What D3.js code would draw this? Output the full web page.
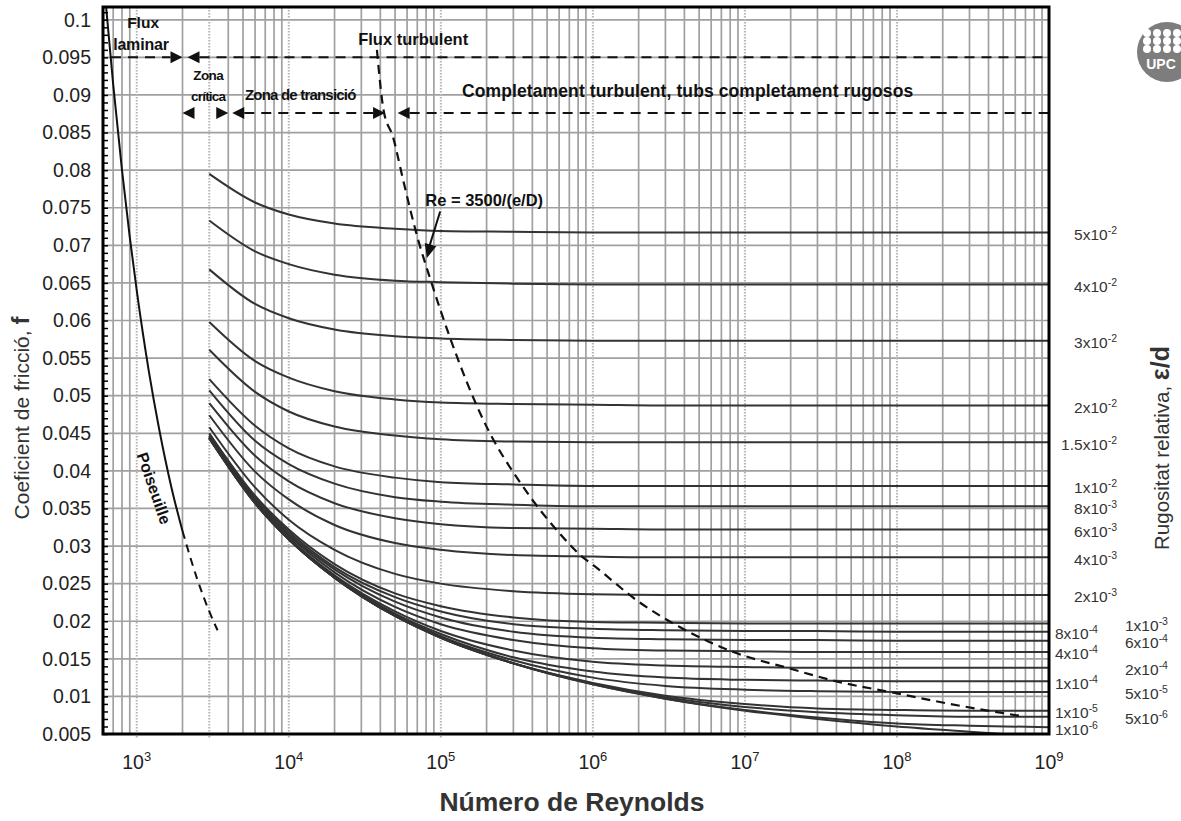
<!DOCTYPE html>
<html>
<head>
<meta charset="utf-8">
<script src="https://cdn.jsdelivr.net/npm/d3@7"></script>
<style>
body { margin: 0; background: #fff; }
text { font-family: "Liberation Sans", Arial, Helvetica, sans-serif; }
</style>
</head>
<body>
<svg id="moody" width="1181" height="821"></svg>
<script>
// ---- data ----
var reSamples = [3000, 6000, 1e4, 2e4, 5e4, 1e5, 3e5, 1e6, 3e6, 1e7, 3e7, 1e8, 3e8, 1e9];

var f_5e2   = [0.0795, 0.0757, 0.0741, 0.0729, 0.0722, 0.0719, 0.0718, 0.0717, 0.0717, 0.0717, 0.0717, 0.0717, 0.0717, 0.0717];
var f_4e2   = [0.0733, 0.0692, 0.0675, 0.0661, 0.0653, 0.0651, 0.0649, 0.0648, 0.0648, 0.0648, 0.0648, 0.0648, 0.0648, 0.0648];
var f_3e2   = [0.0668, 0.0622, 0.0603, 0.0588, 0.0579, 0.0576, 0.0574, 0.0573, 0.0573, 0.0573, 0.0573, 0.0573, 0.0573, 0.0573];
var f_2e2   = [0.0598, 0.0546, 0.0524, 0.0506, 0.0495, 0.0491, 0.0489, 0.0488, 0.0487, 0.0487, 0.0487, 0.0487, 0.0487, 0.0487];
var f_15e3  = [0.0561, 0.0505, 0.0479, 0.0459, 0.0447, 0.0442, 0.0439, 0.0438, 0.0438, 0.0438, 0.0438, 0.0438, 0.0438, 0.0438];
var f_1e2   = [0.0522, 0.0460, 0.0430, 0.0406, 0.0391, 0.0385, 0.0382, 0.0380, 0.0380, 0.0380, 0.0380, 0.0380, 0.0380, 0.0380];
var f_8e3   = [0.0507, 0.0440, 0.0409, 0.0383, 0.0365, 0.0359, 0.0355, 0.0353, 0.0353, 0.0353, 0.0353, 0.0353, 0.0353, 0.0353];
var f_6e3   = [0.0490, 0.0420, 0.0386, 0.0357, 0.0337, 0.0329, 0.0324, 0.0323, 0.0322, 0.0322, 0.0322, 0.0322, 0.0322, 0.0322];
var f_4e3   = [0.0474, 0.0399, 0.0362, 0.0328, 0.0304, 0.0295, 0.0288, 0.0286, 0.0285, 0.0285, 0.0285, 0.0285, 0.0285, 0.0285];
var f_2e3   = [0.0458, 0.0378, 0.0335, 0.0295, 0.0263, 0.0250, 0.0240, 0.0236, 0.0235, 0.0235, 0.0235, 0.0235, 0.0235, 0.0235];
var f_1e3   = [0.0450, 0.0367, 0.0322, 0.0276, 0.0237, 0.0220, 0.0205, 0.0199, 0.0198, 0.0197, 0.0197, 0.0197, 0.0197, 0.0197];
var f_8e4   = [0.0449, 0.0365, 0.0319, 0.0272, 0.0232, 0.0213, 0.0196, 0.0190, 0.0188, 0.0187, 0.0187, 0.0186, 0.0186, 0.0186];
var f_6e4   = [0.0447, 0.0363, 0.0316, 0.0269, 0.0226, 0.0205, 0.0186, 0.0178, 0.0176, 0.0175, 0.0175, 0.0174, 0.0174, 0.0174];
var f_4e4   = [0.0446, 0.0361, 0.0314, 0.0265, 0.0219, 0.0196, 0.0175, 0.0164, 0.0161, 0.0160, 0.0159, 0.0159, 0.0159, 0.0159];
var f_2e4   = [0.0445, 0.0359, 0.0311, 0.0261, 0.0213, 0.0187, 0.0161, 0.0146, 0.0141, 0.0139, 0.0138, 0.0138, 0.0138, 0.0138];
var f_1e4   = [0.0444, 0.0358, 0.0310, 0.0259, 0.0210, 0.0183, 0.0152, 0.0133, 0.0125, 0.0122, 0.0121, 0.0120, 0.0120, 0.0120];
var f_5e5   = [0.0444, 0.0358, 0.0309, 0.0258, 0.0209, 0.0180, 0.0148, 0.0125, 0.0114, 0.0109, 0.0107, 0.0106, 0.0106, 0.0106];
var f_1e5   = [0.0444, 0.0357, 0.0309, 0.0258, 0.0207, 0.0179, 0.0144, 0.0118, 0.0101, 0.0090, 0.0084, 0.0082, 0.0081, 0.0081];
var f_5e6   = [0.0444, 0.0357, 0.0309, 0.0258, 0.0207, 0.0178, 0.0144, 0.0117, 0.0099, 0.0086, 0.0079, 0.0075, 0.0073, 0.0073];
var f_1e6   = [0.0443, 0.0357, 0.0309, 0.0258, 0.0207, 0.0178, 0.0144, 0.0116, 0.0097, 0.0082, 0.0072, 0.0064, 0.0061, 0.0059];
var f_smooth= [0.0443, 0.0357, 0.0309, 0.0258, 0.0207, 0.0178, 0.0144, 0.0116, 0.0097, 0.0081, 0.0070, 0.0060, 0.0053, 0.0046];

// Poiseuille (laminar) line, solid then dashed
var laminarRe    = [629, 700, 800, 900, 1000, 1200, 1400, 1700, 2000];
var laminarF     = [0.1017, 0.0914, 0.0800, 0.0711, 0.0640, 0.0533, 0.0457, 0.0376, 0.0320];
var laminarDashRe = [2000, 2500, 3000, 3400];
var laminarDashF  = [0.0320, 0.0256, 0.0213, 0.0188];

// boundary Re = 3500/(e/D)
var boundaryRe = [3.8e4, 4.2e4, 4.85e4, 5.65e4, 7.1e4, 8.5e4, 1.15e5, 1.9e5, 3.5e5, 5.8e5, 8.6e5, 1e6, 2e6, 3.75e6, 8.4e6, 1.9e7, 4.2e7, 9.5e7, 2.1e8, 6.5e8];
var boundaryF  = [0.0960, 0.0880, 0.0844, 0.0787, 0.0707, 0.0656, 0.0577, 0.0468, 0.0378, 0.0321, 0.0285, 0.0275, 0.0226, 0.0192, 0.0159, 0.0138, 0.0119, 0.0105, 0.0091, 0.0074];

// zone limits (Re) and the levels of the two zone lines (f)
var zoneLimits = [2000, 4000, 43000, 52000];
var zoneLevels = [0.095, 0.0876];

var yTicks = [0.005, 0.01, 0.015, 0.02, 0.025, 0.03, 0.035, 0.04, 0.045, 0.05,
              0.055, 0.06, 0.065, 0.07, 0.075, 0.08, 0.085, 0.09, 0.095, 0.1];
var yTickLabels = ["0.005", "0.01", "0.015", "0.02", "0.025", "0.03", "0.035", "0.04", "0.045", "0.05",
                   "0.055", "0.06", "0.065", "0.07", "0.075", "0.08", "0.085", "0.09", "0.095", "0.1"];
var xTickExponents = [3, 4, 5, 6, 7, 8, 9];

// roughness curves: [mantissa, exponent, values, label column]
var curves = [
  ["5", "-2", f_5e2, 0], ["4", "-2", f_4e2, 0], ["3", "-2", f_3e2, 0], ["2", "-2", f_2e2, 0],
  ["1.5", "-2", f_15e3, 0], ["1", "-2", f_1e2, 0], ["8", "-3", f_8e3, 0], ["6", "-3", f_6e3, 0],
  ["4", "-3", f_4e3, 0], ["2", "-3", f_2e3, 0], ["1", "-3", f_1e3, 2], ["8", "-4", f_8e4, 1],
  ["6", "-4", f_6e4, 2], ["4", "-4", f_4e4, 1], ["2", "-4", f_2e4, 2], ["1", "-4", f_1e4, 1],
  ["5", "-5", f_5e5, 2], ["1", "-5", f_1e5, 1], ["5", "-6", f_5e6, 2], ["1", "-6", f_1e6, 1],
  [null, null, f_smooth, -1]
];

// ---- layout ----
var svg = d3.select("#moody"),
    margin = {top: 7, right: 132, bottom: 87, left: 103},
    width = +svg.attr("width") - margin.left - margin.right,
    height = +svg.attr("height") - margin.top - margin.bottom,
    g = svg.append("g").attr("transform", "translate(" + margin.left + "," + margin.top + ")");

var x = d3.scaleLog().domain([600, 1e9]).range([0, width]);
var y = d3.scaleLinear().domain([0.005, 0.1017]).range([height, 0]);

svg.append("defs").append("clipPath").attr("id", "plotclip")
  .append("rect").attr("width", width).attr("height", height);

// ---- grid ----
var vLines = [];
for (var n = 2; n <= 8; n++) {
  for (var k = 1; k <= 9; k++) {
    var v = k * Math.pow(10, n);
    if (v >= 600 && v < 1e9) vLines.push({v: v, dotted: (k == 1 || v == 3000)});
  }
}

g.append("g")
  .selectAll("line")
  .data(yTicks)
  .enter().append("line")
    .attr("x1", 0).attr("x2", width)
    .attr("y1", function(d) { return y(d); })
    .attr("y2", function(d) { return y(d); })
    .attr("stroke", "#a0a0a0").attr("stroke-width", 1.7);

g.append("g")
  .selectAll("line")
  .data(vLines)
  .enter().append("line")
    .attr("x1", function(d) { return x(d.v); })
    .attr("x2", function(d) { return x(d.v); })
    .attr("y1", 0).attr("y2", function(d) { return d.dotted ? height + 5 : height; })
    .attr("stroke", function(d) { return d.dotted ? "#b4b4b4" : "#a0a0a0"; })
    .attr("stroke-width", function(d) { return d.dotted ? 2 : 1.7; })
    .attr("stroke-dasharray", function(d) { return d.dotted ? "1.5,1.5" : null; });

// ---- curves ----
var line = d3.line()
  .x(function(d) { return x(d[0]); })
  .y(function(d) { return y(d[1]); })
  .curve(d3.curveMonotoneX);

var plot = g.append("g").attr("clip-path", "url(#plotclip)");

plot.append("g")
  .selectAll("path")
  .data(curves)
  .enter().append("path")
    .attr("d", function(c) { return line(reSamples.map(function(r, i) { return [r, c[2][i]]; })); })
    .attr("fill", "none")
    .attr("stroke", "#333")
    .attr("stroke-width", 2);

plot.append("path")
  .attr("d", line(laminarRe.map(function(r, i) { return [r, laminarF[i]]; })))
  .attr("fill", "none").attr("stroke", "#111").attr("stroke-width", 2);

plot.append("path")
  .attr("d", line(laminarDashRe.map(function(r, i) { return [r, laminarDashF[i]]; })))
  .attr("fill", "none").attr("stroke", "#111").attr("stroke-width", 2)
  .attr("stroke-dasharray", "8,6");

plot.append("path")
  .attr("d", line(boundaryRe.map(function(r, i) { return [r, boundaryF[i]]; })))
  .attr("fill", "none").attr("stroke", "#111").attr("stroke-width", 2.2)
  .attr("stroke-dasharray", "9,6");

// ---- zone lines with arrows ----
function arrow(tipX, yy, dir) {
  g.append("path")
    .attr("d", "M" + tipX + "," + yy + "L" + (tipX - dir * 12) + "," + (yy - 6) +
               "L" + (tipX - dir * 12) + "," + (yy + 6) + "Z")
    .attr("fill", "#111");
}
function dashed(x0, x1, yy) {
  g.append("line").attr("x1", x0).attr("x2", x1).attr("y1", yy).attr("y2", yy)
    .attr("stroke", "#111").attr("stroke-width", 2).attr("stroke-dasharray", "10,7");
}

var yA = y(zoneLevels[0]), yB = y(zoneLevels[1]);
dashed(8, x(zoneLimits[0]) - 12, yA);
arrow(x(zoneLimits[0]), yA, 1);
arrow(x(zoneLimits[0]) + 5, yA, -1);
dashed(x(zoneLimits[0]) + 17, width, yA);

arrow(x(zoneLimits[0]), yB, -1);
arrow(x(zoneLimits[1]), yB, 1);
arrow(x(zoneLimits[1]) + 4, yB, -1);
dashed(x(zoneLimits[1]) + 16, x(zoneLimits[2]) - 12, yB);
arrow(x(zoneLimits[2]), yB, 1);
arrow(x(zoneLimits[3]), yB, -1);
dashed(x(zoneLimits[3]) + 12, width, yB);

// ---- annotations ----
function note(txt, re, f, size, anchor, spacing) {
  return g.append("text")
    .attr("x", x(re)).attr("y", y(f))
    .attr("font-size", size).attr("font-weight", "bold")
    .attr("text-anchor", anchor || "start")
    .attr("letter-spacing", spacing || 0)
    .attr("fill", "#111")
    .text(txt);
}
note("Flux", 865, 0.0989, 15.5);
note("laminar", 700, 0.0960, 16, "start", -0.2);
note("Zona", 2950, 0.0920, 13.5, "middle", -0.6);
note("crítica", 2950, 0.0892, 13.5, "middle", -0.8);
note("Zona de transició", 5150, 0.0893, 15, "start", -0.8);
note("Flux turbulent", 28600, 0.0966, 16.5, "start");
note("Completament turbulent, tubs completament rugosos", 138000, 0.0897, 17.5, "start", 0.1);
note("Re = 3500/(e/D)", 79000, 0.0752, 16.5, "start");

g.append("line")
  .attr("x1", x(9.9e4)).attr("y1", y(0.0745))
  .attr("x2", x(8.3e4)).attr("y2", y(0.0695))
  .attr("stroke", "#111").attr("stroke-width", 2);
g.append("path")
  .attr("transform", "translate(" + x(8.1e4) + "," + y(0.0683) + ") rotate(-75)")
  .attr("d", "M0,0L14,-6L14,6Z")
  .attr("fill", "#111");

g.append("text")
  .attr("transform", "translate(" + x(1300) + "," + y(0.0377) + ") rotate(71)")
  .attr("text-anchor", "middle").attr("dy", "0.35em")
  .attr("font-size", 16).attr("font-weight", "bold").attr("fill", "#111")
  .text("Poiseuille");

// ---- axes ----
g.append("g")
  .call(d3.axisLeft(y).tickValues(yTicks).tickSize(0).tickPadding(12)
        .tickFormat(function(d, i) { return yTickLabels[i]; }))
  .call(function(a) { a.select(".domain").remove(); })
  .selectAll("text")
    .attr("font-size", 19.5).attr("fill", "#222")
    .style("font-family", "'Liberation Sans', Arial, sans-serif");

g.append("g")
  .call(d3.axisRight(y).tickValues(d3.range(5, 102).map(function(i) { return i / 1000; }))
        .tickSize(5).tickFormat(""))
  .call(function(a) { a.select(".domain").remove(); })
  .selectAll("line").attr("stroke", "#000").attr("stroke-width", 1.5);

var xTicks = g.append("g")
  .attr("transform", "translate(0," + height + ")")
  .selectAll("text")
  .data(xTickExponents)
  .enter().append("text")
    .attr("x", function(d) { return x(Math.pow(10, d)); })
    .attr("y", 35)
    .attr("text-anchor", "middle")
    .attr("font-size", 19.5).attr("fill", "#222");
xTicks.append("tspan").text("10");
xTicks.append("tspan").attr("dy", -8).attr("font-size", 13).text(function(d) { return d; });

g.append("rect")
  .attr("width", width).attr("height", height)
  .attr("fill", "none").attr("stroke", "#000").attr("stroke-width", 3);

// roughness labels on the right
var colX = [68, 6, 76], colAnchor = ["end", "start", "start"];
var labels = g.append("g")
  .selectAll("text")
  .data(curves.filter(function(c) { return c[0] !== null; }))
  .enter().append("text")
    .attr("x", function(c) { return width + colX[c[3]]; })
    .attr("y", function(c) { return y(c[2][c[2].length - 1]) + 2; })
    .attr("dy", "0.35em")
    .attr("text-anchor", function(c) { return colAnchor[c[3]]; })
    .attr("font-size", 15.5).attr("fill", "#333");
labels.append("tspan").text(function(c) { return c[0] + "x10"; });
labels.append("tspan").attr("dy", -6).attr("font-size", 10.5).text(function(c) { return c[1]; });

// axis titles
g.append("text")
  .attr("x", width / 2 - 4).attr("y", height + 77)
  .attr("text-anchor", "middle")
  .attr("font-size", 26.5).attr("font-weight", "bold").attr("fill", "#333")
  .text("Número de Reynolds");

var yTitle = svg.append("text")
  .attr("transform", "translate(29,418) rotate(-90)")
  .attr("text-anchor", "middle")
  .attr("font-size", 21).attr("fill", "#333");
yTitle.append("tspan").text("Coeficient de fricció, ");
yTitle.append("tspan").attr("font-weight", "bold").attr("font-size", 24).text("f");

var rTitle = svg.append("text")
  .attr("transform", "translate(1169,448) rotate(-90)")
  .attr("text-anchor", "middle")
  .attr("font-size", 20.5).attr("fill", "#333");
rTitle.append("tspan").text("Rugositat relativa, ");
rTitle.append("tspan").attr("font-weight", "bold").attr("font-size", 25).text("ε/d");

// UPC logo (top right, partly cut by the page edge)
var logo = svg.append("g").attr("transform", "translate(1167,52)");
logo.append("circle").attr("r", 30).attr("fill", "#7d7d7d");
[-19, -11, -3].forEach(function(dy) {
  [-20, -10, 0, 10].forEach(function(dx) {
    logo.append("circle").attr("cx", dx).attr("cy", dy).attr("r", 4).attr("fill", "#fff");
  });
});
logo.append("text").attr("y", 17).attr("x", -6).attr("text-anchor", "middle")
  .attr("font-size", 14).attr("font-weight", "bold").attr("fill", "#fff").text("UPC");
</script>
</body>
</html>
